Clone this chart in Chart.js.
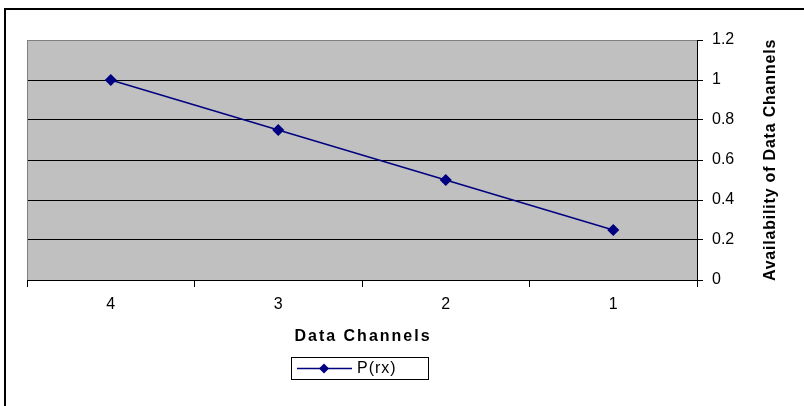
<!DOCTYPE html>
<html><head><meta charset="utf-8">
<script src="https://cdn.jsdelivr.net/npm/chart.js@4/dist/chart.umd.min.js"></script>
<style>html,body{margin:0;padding:0;background:#fff}#wrap{width:804px;height:406px}</style>
</head><body><div id="wrap"><canvas id="c" width="804" height="406"></canvas></div>
<script>
const categories = ['4', '3', '2', '1'];
const availability = [1, 0.75, 0.5, 0.25];
const yTickValues = [0, 0.2, 0.4, 0.6, 0.8, 1, 1.2];
const seriesLabel = 'P(rx)';
const xTitle = 'Data Channels';
const yTitle = 'Availability of Data Channels';

const FONT = 'Liberation Sans, Arial, sans-serif';
const NAVY = '#000080';

const decor = {
  id: 'decor',
  beforeDraw(chart) {
    const ctx = chart.ctx, a = chart.chartArea;
    ctx.save();
    ctx.fillStyle = '#fff';
    ctx.fillRect(0, 0, chart.width, chart.height);
    ctx.fillStyle = '#c0c0c0';
    ctx.fillRect(a.left, a.top, a.right - a.left, a.bottom - a.top);
    ctx.strokeStyle = '#000';
    ctx.lineWidth = 2;
    ctx.strokeRect(5, 9, chart.width + 10, chart.height + 10);
    ctx.restore();
  },
  afterDraw(chart) {
    const ctx = chart.ctx, a = chart.chartArea;
    ctx.save();
    // plot border top/left
    ctx.strokeStyle = '#808080';
    ctx.lineWidth = 1;
    ctx.beginPath();
    ctx.moveTo(a.left + 0.5, a.bottom);
    ctx.lineTo(a.left + 0.5, a.top + 0.5);
    ctx.lineTo(a.right, a.top + 0.5);
    ctx.stroke();
    // titles
    ctx.fillStyle = '#000';
    ctx.font = 'bold 16px ' + FONT;
    ctx.textAlign = 'center';
    ctx.textBaseline = 'middle';
    ctx.letterSpacing = '2px';
    ctx.fillText(xTitle, (a.left + a.right) / 2 + 1, 337);
    ctx.save();
    ctx.letterSpacing = '0.8px';
    ctx.translate(771, (a.top + a.bottom) / 2);
    ctx.rotate(-Math.PI / 2);
    ctx.fillText(yTitle, 0, 0);
    ctx.restore();
    // legend
    const ds = chart.data.datasets[0];
    ctx.strokeStyle = '#000';
    ctx.lineWidth = 1;
    ctx.strokeRect(291.5, 357.5, 137, 22);
    ctx.strokeStyle = ds.borderColor;
    ctx.lineWidth = ds.borderWidth;
    ctx.beginPath();
    ctx.moveTo(297, 368.5);
    ctx.lineTo(352, 368.5);
    ctx.stroke();
    ctx.fillStyle = ds.pointBackgroundColor;
    ctx.beginPath();
    ctx.moveTo(324, 363.5); ctx.lineTo(329, 368.5); ctx.lineTo(324, 373.5); ctx.lineTo(319, 368.5);
    ctx.closePath(); ctx.fill();
    ctx.fillStyle = '#000';
    ctx.font = '16px ' + FONT;
    ctx.letterSpacing = '1px';
    ctx.textAlign = 'left';
    ctx.fillText(ds.label, 357, 369);
    ctx.restore();
  }
};

new Chart(document.getElementById('c'), {
  type: 'line',
  data: {
    labels: categories,
    datasets: [{
      label: seriesLabel,
      data: availability,
      borderColor: NAVY,
      backgroundColor: NAVY,
      pointBackgroundColor: NAVY,
      pointBorderColor: NAVY,
      borderWidth: 1.5,
      pointStyle: 'rectRot',
      pointRadius: 5,
      pointHoverRadius: 5,
      tension: 0
    }]
  },
  options: {
    responsive: false,
    animation: false,
    devicePixelRatio: 1,
    layout: { padding: { left: 27, top: 40, right: 0, bottom: 0 } },
    plugins: { legend: { display: false }, tooltip: { enabled: false } },
    scales: {
      x: {
        type: 'category',
        offset: true,
        grid: { offset: true, drawOnChartArea: false, drawTicks: true, tickLength: 7, color: '#000', tickColor: '#000' },
        border: { color: '#000', width: 1 },
        ticks: { color: '#000', font: { family: FONT, size: 16 }, padding: 8, maxRotation: 0 },
        afterFit(s) { s.height = 126; }
      },
      y: {
        position: 'right',
        min: 0, max: 1.2,
        afterBuildTicks(s) { s.ticks = yTickValues.map(v => ({ value: v })); },
        grid: {
          drawOnChartArea: true, drawTicks: true, tickLength: 6,
          color: (c) => (c.tick && c.tick.value === 1.2) ? '#808080' : '#000',
          tickColor: '#000'
        },
        border: { color: '#000', width: 1 },
        ticks: { color: '#000', font: { family: FONT, size: 16 }, padding: 9, callback: (v) => String(v) },
        afterFit(s) { s.width = 107; }
      }
    }
  },
  plugins: [decor]
});
</script>
</body></html>
